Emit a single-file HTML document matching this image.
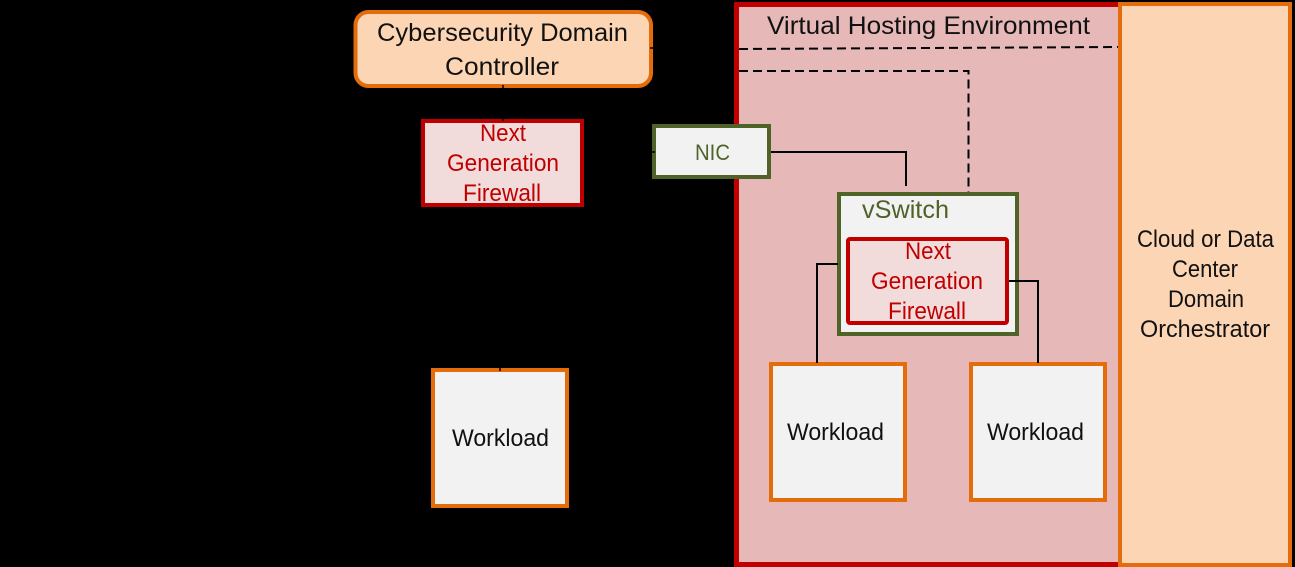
<!DOCTYPE html>
<html><head><meta charset="utf-8"><style>
html,body{margin:0;padding:0;background:#000;width:1295px;height:567px;overflow:hidden}
svg{display:block}
text{font-family:"Liberation Sans",sans-serif;font-size:24px;fill:#111}
.r{fill:#c00000}.g{fill:#4f6228}
.w{font-size:25px}
</style></head><body>
<svg width="1295" height="567" viewBox="0 0 1295 567" xmlns="http://www.w3.org/2000/svg">
<rect width="1295" height="567" fill="#000"/>
<rect x="736.5" y="4.5" width="400" height="560" fill="#e6b8b7" stroke="#c00000" stroke-width="5"/>
<rect x="1120" y="4" width="170" height="561" fill="#fcd5b4" stroke="#e46c0a" stroke-width="4"/>
<text class="w" x="767" y="34" textLength="323" lengthAdjust="spacingAndGlyphs">Virtual Hosting Environment</text>
<path d="M739 49L1118 47" stroke="#000" stroke-width="2" stroke-dasharray="9 5" fill="none"/>
<path d="M739 71H968.500V193H972" stroke="#000" stroke-width="2" stroke-dasharray="9 5" fill="none"/>
<path d="M770 152H906V186" stroke="#000" stroke-width="2" fill="none"/>
<rect x="355.500" y="12" width="295.500" height="74" rx="13" fill="#fcd5b4" stroke="#e46c0a" stroke-width="4"/>
<text class="w" x="377" y="41" textLength="251" lengthAdjust="spacingAndGlyphs">Cybersecurity Domain</text>
<text class="w" x="445" y="75" textLength="114" lengthAdjust="spacingAndGlyphs">Controller</text>
<rect x="423" y="121" width="159" height="84" fill="#f2dcdb" stroke="#c00000" stroke-width="4"/>
<text class="r" x="480" y="141" textLength="46" lengthAdjust="spacingAndGlyphs">Next</text>
<text class="r" x="447" y="171" textLength="112" lengthAdjust="spacingAndGlyphs">Generation</text>
<text class="r" x="463" y="201" textLength="78" lengthAdjust="spacingAndGlyphs">Firewall</text>
<rect x="654" y="126" width="115" height="51" fill="#f2f2f2" stroke="#4f6228" stroke-width="4"/>
<text class="g" x="695" y="160" style="font-size:22px" textLength="35" lengthAdjust="spacingAndGlyphs">NIC</text>
<rect x="839" y="194" width="178" height="140" fill="#f2f2f2" stroke="#4f6228" stroke-width="4"/>
<text class="g w" x="862" y="218" textLength="87" lengthAdjust="spacingAndGlyphs">vSwitch</text>
<rect x="848" y="239" width="159" height="84" rx="2" fill="#f2dcdb" stroke="#c00000" stroke-width="4"/>
<text class="r" x="905" y="259" textLength="46" lengthAdjust="spacingAndGlyphs">Next</text>
<text class="r" x="871" y="289" textLength="112" lengthAdjust="spacingAndGlyphs">Generation</text>
<text class="r" x="888" y="319" textLength="78" lengthAdjust="spacingAndGlyphs">Firewall</text>
<rect x="433" y="370" width="134" height="136" fill="#f2f2f2" stroke="#e46c0a" stroke-width="4"/>
<text x="452" y="446" textLength="97" lengthAdjust="spacingAndGlyphs">Workload</text>
<rect x="771" y="364" width="134" height="136" fill="#f2f2f2" stroke="#e46c0a" stroke-width="4"/>
<text x="787" y="440" textLength="97" lengthAdjust="spacingAndGlyphs">Workload</text>
<rect x="971" y="364" width="134" height="136" fill="#f2f2f2" stroke="#e46c0a" stroke-width="4"/>
<text x="987" y="440" textLength="97" lengthAdjust="spacingAndGlyphs">Workload</text>
<path d="M838 264H817V363" stroke="#000" stroke-width="2" fill="none"/>
<path d="M1009 281H1038V363" stroke="#000" stroke-width="2" fill="none"/>
<path d="M503 85V88M503 118V121M650 48H654M651 152H655M500 368V371" stroke="#000" stroke-width="1.500" fill="none"/>
<text x="1137" y="247" textLength="137" lengthAdjust="spacingAndGlyphs">Cloud or Data</text>
<text x="1172" y="277" textLength="66" lengthAdjust="spacingAndGlyphs">Center</text>
<text x="1168" y="307" textLength="76" lengthAdjust="spacingAndGlyphs">Domain</text>
<text x="1140" y="337" textLength="130" lengthAdjust="spacingAndGlyphs">Orchestrator</text>
</svg>
</body></html>
